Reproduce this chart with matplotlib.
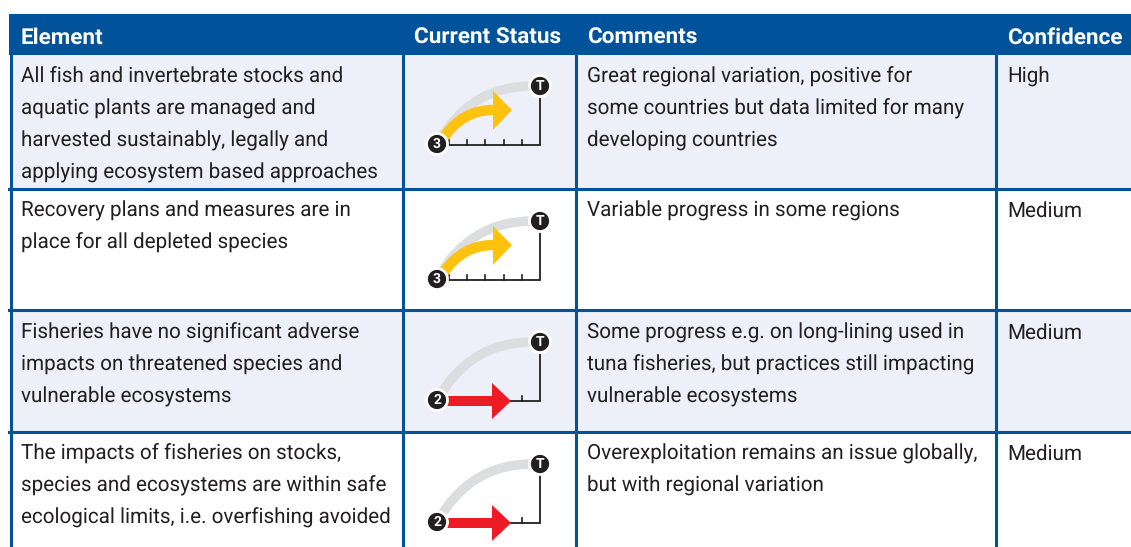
import matplotlib
matplotlib.use('Agg')
import matplotlib.pyplot as plt
from matplotlib.patches import Rectangle, Circle, PathPatch, Polygon
from matplotlib.path import Path

headers = ['Element', 'Current Status', 'Comments', 'Confidence']
elements = [
    ['All fish and invertebrate stocks and', 'aquatic plants are managed and',
     'harvested sustainably, legally and', 'applying ecosystem based approaches'],
    ['Recovery plans and measures are in', 'place for all depleted species'],
    ['Fisheries have no significant adverse', 'impacts on threatened species and',
     'vulnerable ecosystems'],
    ['The impacts of fisheries on stocks,', 'species and ecosystems are within safe',
     'ecological limits, i.e. overfishing avoided'],
]
comments = [
    ['Great regional variation, positive for', 'some countries but data limited for many',
     'developing countries'],
    ['Variable progress in some regions'],
    ['Some progress e.g. on long-lining used in', 'tuna fisheries, but practices still impacting',
     'vulnerable ecosystems'],
    ['Overexploitation remains an issue globally,', 'but with regional variation'],
]
confidence = ['High', 'Medium', 'Medium', 'Medium']
status = [3, 3, 2, 2]

# layout, pixels of the 1131x547 picture
W, H = 1131, 547
row_top = [55, 190, 311, 433]
row_bot = [188, 309, 431, 547]
first_line = [83, 217, 339, 460]
icon_base = [145, 280, 401, 523]
col_lines = [10.5, 402.5, 575.5, 995.5]
head_x = [21, 414, 587, 1007]
tints = ['#edf0f8', 'white', '#edf0f8', 'white']
blue = '#00539b'
ink = '#231f20'
pitch = 32

plt.rcParams['font.family'] = ['Roboto', 'DejaVu Sans']
plt.rcParams['text.hinting'] = 'none'
fig = plt.figure(figsize=(W / 100, H / 100), dpi=100)
ax = fig.add_axes([0, 0, 1, 1])
ax.set_xlim(0, W)
ax.set_ylim(H, 0)
ax.axis('off')


def draw_icon(ax, y0, n):
    x0, x1 = 437, 540
    yt = y0 - 59
    col = '#ffc20e' if n == 3 else '#ed1c24'
    # grey target arc
    arc = Path([(x0, y0 - 1), (x0 + 33, yt), (x1 - 8, yt)], [Path.MOVETO, Path.CURVE3, Path.CURVE3])
    ax.add_patch(PathPatch(arc, fc='none', ec='#dcddde', lw=6.8, capstyle='butt', zorder=2))
    # axis line and ticks
    ax.plot([x1, x1, x0 + 12 if n == 3 else 510], [yt, y0, y0], color=ink, lw=1.3, zorder=2,
            solid_joinstyle='miter')
    ticks = [449, 467, 485, 504, 522] if n == 3 else [522]
    for t in ticks:
        ax.plot([t, t], [y0, y0 - 5], color=ink, lw=1.2, zorder=2)
    # status arrow
    if n == 3:
        body = Path([(x0 + 7, y0 - 8), (x0 + 26, y0 - 35), (493, y0 - 35)],
                    [Path.MOVETO, Path.CURVE3, Path.CURVE3])
        ax.add_patch(PathPatch(body, fc='none', ec=col, lw=7.5, capstyle='butt', zorder=3))
        ax.add_patch(Polygon([(493, y0 - 54), (512, y0 - 35), (493, y0 - 15)], fc=col, ec='none', zorder=3))
    else:
        ax.add_patch(Rectangle((x0 + 5, y0 - 5), 52, 10, fc=col, ec='none', zorder=3))
        ax.add_patch(Polygon([(492, y0 - 18), (511, y0), (492, y0 + 18)], fc=col, ec='none', zorder=3))
    # end markers
    for cx, cy, lab in [(x0, y0 - 1, str(n)), (x1, yt, 'T')]:
        ax.add_patch(Circle((cx, cy), 10.5, fc=ink, ec='white', lw=2, zorder=4))
        ax.text(cx, cy + 0.3, lab, color='white', fontsize=10, fontweight='bold',
                ha='center', va='center', zorder=5)


# header band
ax.add_patch(Rectangle((9, 14), W - 9, 41, fc=blue, ec='none'))
for x, lab in zip(head_x, headers):
    ax.text(x, 44, lab, color='white', fontsize=16.2, fontweight='bold', ha='left', va='baseline')

# rows
for i in range(4):
    ax.add_patch(Rectangle((10, row_top[i]), W - 10, row_bot[i] - row_top[i], fc=tints[i], ec='none', zorder=0))
    if i < 3:
        ax.plot([9, W], [row_bot[i] + 1] * 2, color=blue, lw=2.2, zorder=1)
    for j, line in enumerate(elements[i]):
        ax.text(head_x[0], first_line[i] + j * pitch, line, color=ink, fontsize=14.9, va='baseline')
    for j, line in enumerate(comments[i]):
        ax.text(head_x[2], first_line[i] + j * pitch, line, color=ink, fontsize=14.9, va='baseline')
    ax.text(head_x[3], first_line[i], confidence[i], color=ink, fontsize=14.9, va='baseline')
    draw_icon(ax, icon_base[i], status[i])

for x in col_lines:
    ax.plot([x, x], [55, H], color=blue, lw=2.2, zorder=1)

fig.savefig('out.png', dpi=100)
